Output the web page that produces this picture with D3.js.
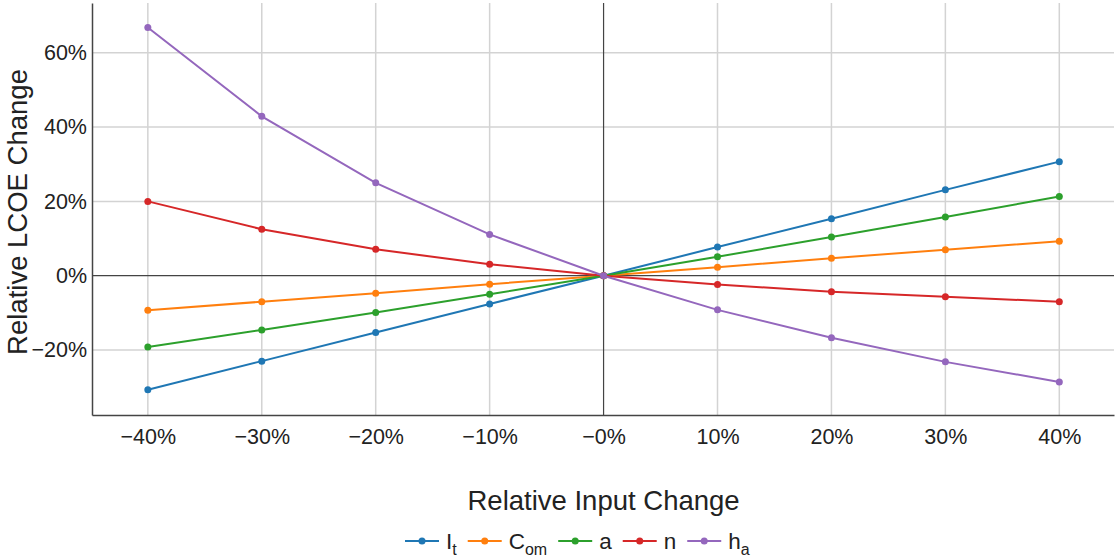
<!DOCTYPE html>
<html>
<head>
<meta charset="utf-8">
<script src="https://cdn.jsdelivr.net/npm/d3@7"></script>
<style>
  body { margin: 0; background: #fff; }
  text { font-family: "Liberation Sans", Arial, sans-serif; fill: #222; }
  .grid line { stroke: #d3d3d3; stroke-width: 1.5; }
</style>
</head>
<body>
<div id="chart"></div>
<script>
const width = 1116
const height = 558
const margin = { top: 3, right: 2, bottom: 143, left: 92 }

// data
const inputChange = [-40, -30, -20, -10, 0, 10, 20, 30, 40]
const It  = [-30.7, -23.0, -15.3, -7.6, 0, 7.7, 15.3, 23.1, 30.7]
const Com = [-9.3, -7.0, -4.7, -2.3, 0, 2.3, 4.7, 7.0, 9.3]
const a   = [-19.2, -14.6, -9.9, -5.0, 0, 5.1, 10.4, 15.8, 21.3]
const n   = [20.0, 12.5, 7.1, 3.1, 0, -2.4, -4.3, -5.7, -7.0]
const ha  = [66.8, 42.9, 25.0, 11.1, 0, -9.2, -16.7, -23.2, -28.6]
const xTicks = [-40, -30, -20, -10, 0, 10, 20, 30, 40]
const yTicks = [-20, 0, 20, 40, 60]

const series = [
  { key: 'It', base: 'I', sub: 't', values: It, color: '#1f77b4' },
  { key: 'Com', base: 'C', sub: 'om', values: Com, color: '#ff7f0e' },
  { key: 'a', base: 'a', sub: '', values: a, color: '#2ca02c' },
  { key: 'n', base: 'n', sub: '', values: n, color: '#d62728' },
  { key: 'ha', base: 'h', sub: 'a', values: ha, color: '#9467bd' },
]

const svg = d3.select('#chart')
  .append('svg')
  .attr('width', width)
  .attr('height', height)

const x = d3.scaleLinear().domain([-44.9, 44.8]).range([margin.left, width - margin.right])
const y = d3.scaleLinear().domain([-37.5, 73.4]).range([height - margin.bottom, margin.top])

const xFmt = v => v === 0 ? '\u22120%' : (v < 0 ? '\u2212' : '') + Math.abs(v) + '%'
const yFmt = v => (v < 0 ? '\u2212' : '') + Math.abs(v) + '%'

// grid
const grid = svg.append('g').attr('class', 'grid')
grid.selectAll('.vgrid')
  .data(xTicks.filter(d => d !== 0))
  .enter()
    .append('line')
    .attr('x1', d => x(d)).attr('x2', d => x(d))
    .attr('y1', margin.top).attr('y2', height - margin.bottom)
grid.selectAll('.hgrid')
  .data(yTicks.filter(d => d !== 0))
  .enter()
    .append('line')
    .attr('y1', d => y(d)).attr('y2', d => y(d))
    .attr('x1', margin.left).attr('x2', width - margin.right)

// zero lines
svg.append('line')
  .attr('x1', x(0)).attr('x2', x(0))
  .attr('y1', margin.top).attr('y2', height - margin.bottom)
  .attr('stroke', '#444').attr('stroke-width', 1.2)
svg.append('line')
  .attr('x1', margin.left).attr('x2', width - margin.right)
  .attr('y1', y(0)).attr('y2', y(0))
  .attr('stroke', '#444').attr('stroke-width', 1.2)

// axes
const xAxis = svg.append('g')
  .attr('transform', `translate(0,${height - margin.bottom})`)
  .call(d3.axisBottom(x).tickValues(xTicks).tickFormat(xFmt).tickSize(0).tickPadding(14))
const yAxis = svg.append('g')
  .attr('transform', `translate(${margin.left},0)`)
  .call(d3.axisLeft(y).tickValues(yTicks).tickFormat(yFmt).tickSize(0).tickPadding(5))
;[xAxis, yAxis].forEach(ax => {
  ax.select('.domain').attr('stroke', '#444').attr('stroke-width', 1.5)
  ax.selectAll('text').style('font-size', '21.5px').style('font-family', '"Liberation Sans", Arial, sans-serif').attr('fill', '#222')
})

// lines
const line = d3.line()
  .x((d, i) => x(inputChange[i]))
  .y(d => y(d))
const groups = svg.selectAll('.series')
  .data(series)
  .enter()
    .append('g')
    .attr('class', 'series')
groups.append('path')
  .attr('d', d => line(d.values))
  .attr('fill', 'none')
  .attr('stroke', d => d.color)
  .attr('stroke-width', 2)
groups.selectAll('circle')
  .data(d => d.values.map((v, i) => ({ v, i, color: d.color })))
  .enter()
    .append('circle')
    .attr('cx', d => x(inputChange[d.i]))
    .attr('cy', d => y(d.v))
    .attr('r', 3.5)
    .attr('fill', d => d.color)

// axis titles
svg.append('text')
  .attr('x', x(0))
  .attr('y', 510)
  .attr('text-anchor', 'middle')
  .style('font-size', '27.5px')
  .text('Relative Input Change')
svg.append('text')
  .attr('transform', `translate(27,${(margin.top + height - margin.bottom) / 2 + 3}) rotate(-90)`)
  .attr('text-anchor', 'middle')
  .style('font-size', '27.5px')
  .text('Relative LCOE Change')

// legend
const legend = svg.append('g')
let lx = 405
const ly = 541
series.forEach(s => {
  const item = legend.append('g')
  item.append('line')
    .attr('x1', lx).attr('x2', lx + 34)
    .attr('y1', ly).attr('y2', ly)
    .attr('stroke', s.color).attr('stroke-width', 2)
  item.append('circle')
    .attr('cx', lx + 17).attr('cy', ly).attr('r', 3.5)
    .attr('fill', s.color)
  const t = item.append('text')
    .attr('x', lx + 41)
    .attr('y', ly + 8)
    .style('font-size', '22.5px')
  t.append('tspan').text(s.base)
  if (s.sub) {
    t.append('tspan')
      .attr('dy', 6)
      .style('font-size', '16px')
      .text(s.sub)
  }
  lx += 41 + t.node().getComputedTextLength() + 11
})
</script>
</body>
</html>
